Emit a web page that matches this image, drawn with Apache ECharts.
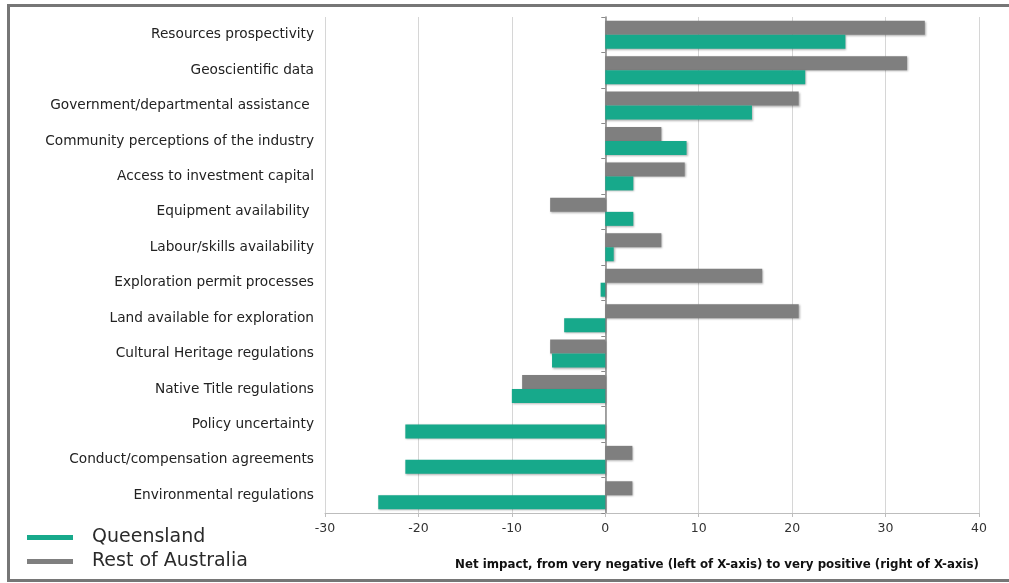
<!DOCTYPE html>
<html>
<head>
<meta charset="utf-8">
<script src="https://cdn.jsdelivr.net/npm/echarts@6/dist/echarts.min.js"></script>
<style>
html,body{margin:0;padding:0;background:#fff;}
#chart{width:1009px;height:583px;}
</style>
</head>
<body>
<div id="chart"></div>
<script>
const categories = [
  'Resources prospectivity',
  'Geoscientific data',
  'Government/departmental assistance ',
  'Community perceptions of the industry',
  'Access to investment capital',
  'Equipment availability ',
  'Labour/skills availability',
  'Exploration permit processes',
  'Land available for exploration',
  'Cultural Heritage regulations',
  'Native Title regulations',
  'Policy uncertainty',
  'Conduct/compensation agreements',
  'Environmental regulations'
];
const restOfAustralia = [34.2, 32.3, 20.7, 6.0, 8.5, -5.9, 6.0, 16.8, 20.7, -5.9, -8.9, 0, 2.9, 2.9];
const queensland = [25.7, 21.4, 15.7, 8.7, 3.0, 3.0, 0.9, -0.5, -4.4, -5.7, -10.0, -21.4, -21.4, -24.3];
const xTicks = [-30, -20, -10, 0, 10, 20, 30, 40];
const axisTitle = 'Net impact, from very negative (left of X-axis) to very positive (right of X-axis)';

const chart = echarts.init(document.getElementById('chart'), null, {renderer: 'canvas'});
const fontFam = '"DejaVu Sans", sans-serif';
const barShadow = {shadowBlur: 2, shadowOffsetX: 1, shadowOffsetY: 1, shadowColor: 'rgba(0,0,0,0.3)'};

chart.setOption({
  animation: false,
  backgroundColor: '#ffffff',
  graphic: [{
    type: 'rect',
    shape: {x: 8.5, y: 5.5, width: 1100, height: 575},
    style: {fill: 'none', stroke: '#767676', lineWidth: 3},
    silent: true,
    z: 100
  }],
  title: {
    text: axisTitle,
    right: 25,
    top: 554,
    textStyle: {fontFamily: '"DejaVu Sans", sans-serif', fontWeight: 'bold', fontSize: 11.8, color: '#111'}
  },
  legend: {
    orient: 'vertical',
    left: 22,
    top: 523,
    icon: 'rect',
    itemWidth: 46,
    itemHeight: 5,
    itemGap: 5,
    data: ['Queensland', 'Rest of Australia'],
    textStyle: {fontFamily: fontFam, fontSize: 19, color: '#2a2a2a', padding: [0, 0, 0, 14]}
  },
  grid: {left: 325, right: 30, top: 17, bottom: 70, containLabel: false},
  xAxis: {
    type: 'value',
    min: -30,
    max: 40,
    interval: 10,
    axisLine: {show: true, onZero: false, lineStyle: {color: '#bdbdbd', width: 1}},
    axisTick: {show: true, length: 4, lineStyle: {color: '#bdbdbd'}},
    axisLabel: {
      color: '#333', fontFamily: fontFam, fontSize: 12.5, margin: 9,
      formatter: function (v) { return xTicks.indexOf(v) >= 0 ? String(v) : ''; }
    },
    splitLine: {show: true, lineStyle: {color: '#d6d6d6', width: 1}}
  },
  yAxis: [{
    type: 'category',
    data: categories,
    inverse: true,
    axisLine: {show: false, onZero: false},
    axisTick: {show: false},
    axisLabel: {color: '#222', fontFamily: fontFam, fontSize: 13.7, margin: 11},
    splitLine: {show: false}
  }, {
    type: 'category',
    data: categories,
    inverse: true,
    position: 'left',
    axisLine: {show: true, onZero: true, lineStyle: {color: '#8a8a8a', width: 1.5}},
    axisTick: {show: true, length: 4, lineStyle: {color: '#8a8a8a'}},
    axisLabel: {show: false},
    splitLine: {show: false}
  }],
  series: [{
    name: 'Rest of Australia',
    type: 'bar',
    data: restOfAustralia,
    barGap: '0%',
    barCategoryGap: '21%',
    itemStyle: Object.assign({color: '#7f7f7f'}, barShadow)
  }, {
    name: 'Queensland',
    type: 'bar',
    data: queensland,
    barGap: '0%',
    barCategoryGap: '21%',
    itemStyle: Object.assign({color: '#17a98b'}, barShadow)
  }]
});
</script>
</body>
</html>
